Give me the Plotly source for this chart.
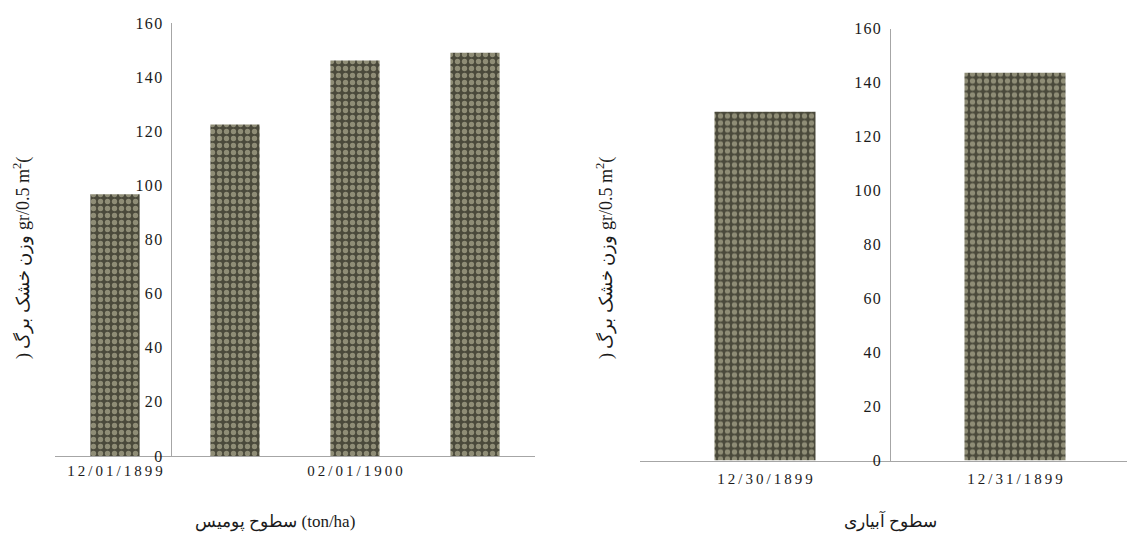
import plotly.graph_objects as go

# ---- data -------------------------------------------------------------
left_values = [96.7, 122.5, 146.1, 149.0]          # dry leaf weight per pumice level
left_tick_idx = [0, 2]                              # categories that carry a label
left_tick_text = ["12/01/1899", "02/01/1900"]

right_values = [129.2, 143.6]                       # dry leaf weight per irrigation level
right_tick_text = ["12/30/1899", "12/31/1899"]

y_ticks = [0, 20, 40, 60, 80, 100, 120, 140, 160]

y_title = ") وزن خشک برگ gr/0.5 m<sup>2</sup>("
left_x_title = "سطوح پومیس (ton/ha)"
right_x_title = "سطوح آبیاری"

# ---- layout geometry (pixels) ------------------------------------------
W, H = 1127, 537
L_X0, L_X1, L_TOP, L_BOT = 55, 535, 23, 456
R_X0, R_TOP, R_BOT = 640, 28.5, 460.5
R_CAT_W = 250


def fx(p):
    return p / W


def fy(p):
    return 1 - p / H


def spaced(s, sep="\u2009"):
    return sep.join(s)


SERIF = "Liberation Serif, Times New Roman, serif"
AXIS_GREY = "#a6a6a6"
TXT = "#1a1a1a"

pattern = dict(shape=".", bgcolor="#4a493b", fgcolor="#8f8d76",
               size=7, solidity=0.45, fillmode="replace")

fig = go.Figure()

fig.add_trace(go.Bar(
    x=list(range(len(left_values))), y=left_values, width=0.41,
    marker=dict(color="#4a493b", pattern=pattern, line=dict(width=0)),
    xaxis="x", yaxis="y", showlegend=False, hoverinfo="y",
))
fig.add_trace(go.Bar(
    x=list(range(len(right_values))), y=right_values, width=0.404,
    marker=dict(color="#4a493b", pattern=pattern, line=dict(width=0)),
    xaxis="x2", yaxis="y2", showlegend=False, hoverinfo="y",
))

# left panel: value axis crosses between the first and second category
l_range = [-0.5, len(left_values) - 0.5]
l_dom = [fx(L_X0), fx(L_X1)]
l_cross = l_dom[0] + (0.47 - l_range[0]) / (l_range[1] - l_range[0]) * (l_dom[1] - l_dom[0])

# right panel: plot runs off the right edge
r_range = [-0.5, -0.5 + (W - R_X0) / R_CAT_W]
r_dom = [fx(R_X0), 1.0]
r_cross = r_dom[0] + (0.5 - r_range[0]) / (r_range[1] - r_range[0]) * (r_dom[1] - r_dom[0])

y_tick_text = [spaced(str(v), "\u200a") for v in y_ticks]

common_y = dict(range=[0, 160], tickvals=y_ticks, ticktext=y_tick_text,
                showgrid=False, zeroline=False, automargin=False,
                showline=True, linecolor=AXIS_GREY, linewidth=1, ticks="",
                tickfont=dict(family=SERIF, size=16, color=TXT),
                ticklabelstandoff=6, side="left", anchor="free")
common_x = dict(showgrid=False, zeroline=False, showline=True, linecolor=AXIS_GREY,
                automargin=False, linewidth=1, ticks="",
                tickfont=dict(family=SERIF, size=15, color=TXT))

title_font = dict(family=SERIF, size=18, color=TXT)

fig.update_layout(
    template="none",
    width=W, height=H,
    margin=dict(l=0, r=0, t=0, b=0, pad=0),
    paper_bgcolor="white", plot_bgcolor="white",
    xaxis=dict(domain=l_dom, range=l_range, anchor="y",
               tickvals=left_tick_idx, ticktext=[spaced(t) for t in left_tick_text],
               ticklabelstandoff=1, **common_x),
    yaxis=dict(domain=[fy(L_BOT), fy(L_TOP)], position=l_cross, **common_y),
    xaxis2=dict(domain=r_dom, range=r_range, anchor="y2",
                tickvals=list(range(len(right_tick_text))),
                ticktext=[spaced(t) for t in right_tick_text],
                ticklabelstandoff=4, **common_x),
    yaxis2=dict(domain=[fy(R_BOT), fy(R_TOP)], position=r_cross, **common_y),
    annotations=[
        dict(text=y_title, x=fx(22), y=fy(258), xref="paper", yref="paper",
             xanchor="center", yanchor="middle",
             textangle=-90, showarrow=False, font=title_font),
        dict(text=y_title, x=fx(605), y=fy(258), xref="paper", yref="paper",
             xanchor="center", yanchor="middle",
             textangle=-90, showarrow=False, font=title_font),
        dict(text=left_x_title, x=fx(275), y=fy(522), xref="paper", yref="paper",
             xanchor="center", yanchor="middle",
             showarrow=False, font=dict(family=SERIF, size=17, color=TXT)),
        dict(text=right_x_title, x=fx(890), y=fy(521), xref="paper", yref="paper",
             xanchor="center", yanchor="middle",
             showarrow=False, font=dict(family=SERIF, size=17, color=TXT)),
    ],
)

fig.write_html("out.html")
